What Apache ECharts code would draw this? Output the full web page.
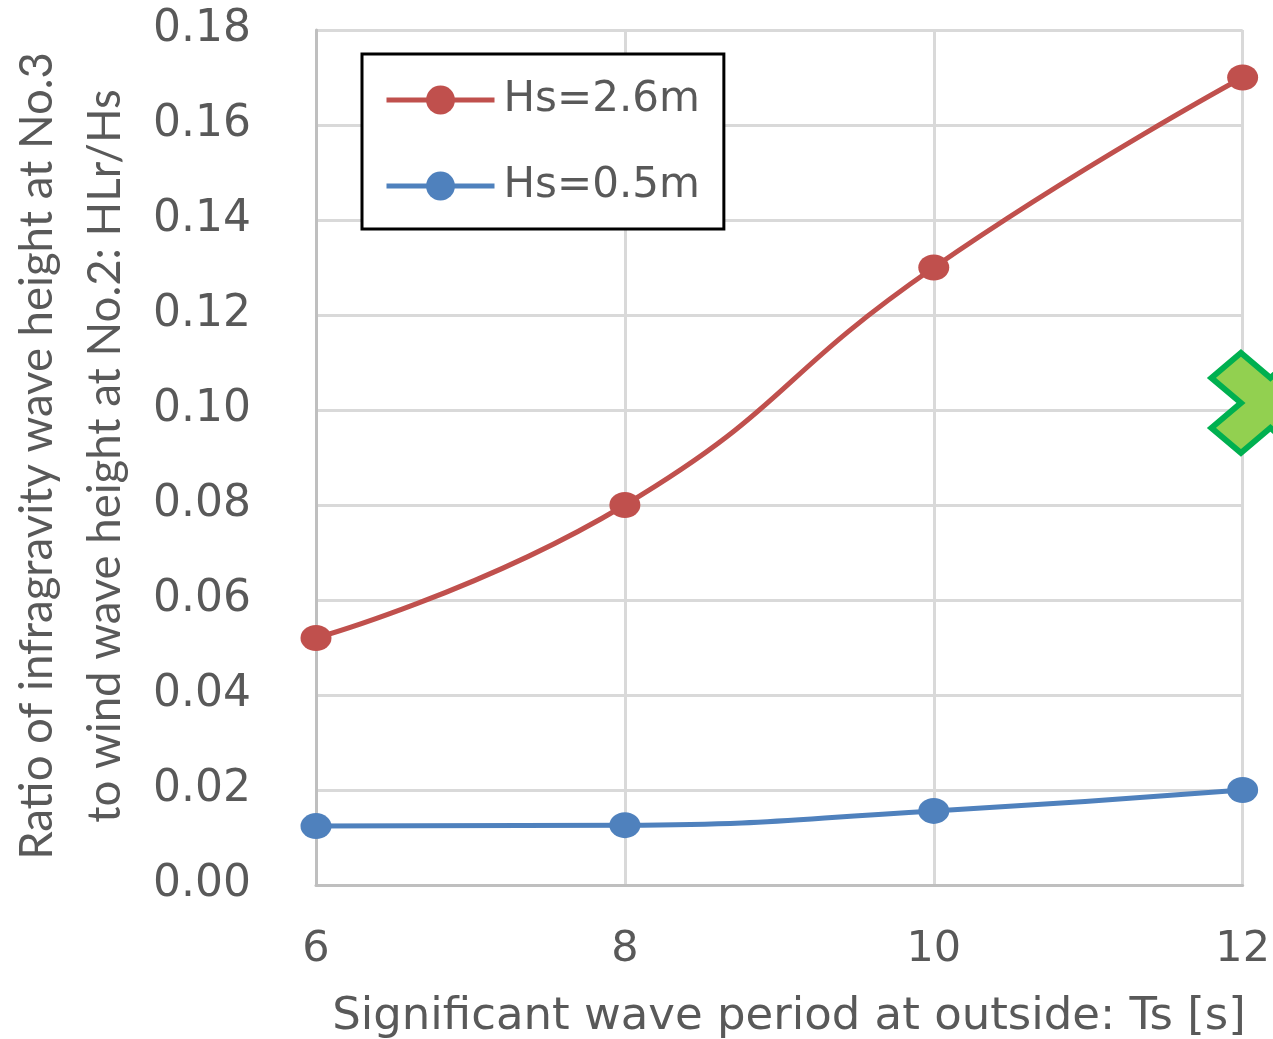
<!DOCTYPE html>
<html>
<head>
<meta charset="utf-8">
<script src="https://cdn.jsdelivr.net/npm/echarts@6/dist/echarts.min.js"></script>
<style>
html,body{margin:0;padding:0;background:#fff;}
#chart{width:1273px;height:1039px;}
</style>
</head>
<body>
<div id="chart"></div>
<script>
var periods = [6, 8, 10, 12];
var hs26 = [0.052, 0.080, 0.130, 0.170];
var hs05 = [0.0124, 0.0126, 0.0156, 0.0200];
var crossPoint = [12.18, 0.1015];
var seriesNames = ['Hs=2.6m', 'Hs=0.5m'];
var xTitle = 'Significant wave period at outside: Ts [s]';
var yTitle1 = 'Ratio of infragravity wave height at No.3';
var yTitle2 = 'to wind wave height at No.2: HLr/Hs';

var FONT = '"DejaVu Sans", sans-serif';
var FONT2 = 'Lato, "Open Sans", sans-serif';
var TXT = '#595959';

function pairs(xs, ys){ return xs.map(function(x,i){return [x, ys[i]];}); }

var chart = echarts.init(document.getElementById('chart'), null, {renderer:'canvas'});
chart.setOption({
  animation: false,
  backgroundColor: '#fff',
  grid: {left: 316, right: 30, top: 30, bottom: 154, containLabel: false},
  xAxis: {
    type: 'value', min: 6, max: 12, interval: 2,
    axisLine: {show: true, lineStyle: {color: '#BFBFBF', width: 3}},
    axisTick: {show: false},
    splitLine: {show: true, lineStyle: {color: '#D9D9D9', width: 3}},
    axisLabel: {color: TXT, fontSize: 43, fontFamily: FONT, margin: 43}
  },
  yAxis: {
    type: 'value', min: 0, max: 0.18, interval: 0.02,
    axisLine: {show: true, lineStyle: {color: '#BFBFBF', width: 3}},
    axisTick: {show: false},
    splitLine: {show: true, lineStyle: {color: '#D9D9D9', width: 3}},
    axisLabel: {color: TXT, fontSize: 44, fontFamily: FONT, margin: 65,
      formatter: function(v){ return v.toFixed(2); }}
  },
  legend: {
    left: 362, top: 54, orient: 'vertical',
    data: seriesNames,
    backgroundColor: '#fff',
    borderColor: '#000', borderWidth: 3, borderRadius: 0,
    padding: [25, 24, 22, 22],
    itemWidth: 108, itemHeight: 36, itemGap: 44,
    lineStyle: {width: 5},
    textStyle: {color: TXT, fontSize: 42, fontFamily: FONT, padding: [0, 0, 0, 4]}
  },
  graphic: [{
    type: 'text', x: 71, y: 456, rotation: Math.PI/2,
    style: {text: yTitle1 + '\n' + yTitle2, fill: TXT, font: '45.5px ' + FONT2,
      align: 'center', verticalAlign: 'middle', lineHeight: 68}
  }, {
    type: 'text', x: 789, y: 1017,
    style: {text: xTitle, fill: TXT, font: '45px ' + FONT,
      align: 'center', verticalAlign: 'middle'}
  }],
  series: [
    {name: seriesNames[0], type: 'line', data: pairs(periods, hs26), smooth: 0.5,
      symbol: 'circle', symbolSize: [31, 26],
      lineStyle: {color: '#C0504D', width: 5}, itemStyle: {color: '#C0504D'}, z: 3},
    {name: seriesNames[1], type: 'line', data: pairs(periods, hs05), smooth: 0.5,
      symbol: 'circle', symbolSize: [31, 26],
      lineStyle: {color: '#4F81BD', width: 5}, itemStyle: {color: '#4F81BD'}, z: 3},
    {name: 'mark', type: 'scatter', data: [crossPoint], clip: false,
      symbol: 'path://M0,25 L25,0 L50,25 L75,0 L100,25 L75,50 L100,75 L75,100 L50,75 L25,100 L0,75 L25,50 Z',
      symbolSize: [118, 100],
      itemStyle: {color: '#92D050', borderColor: '#00B050', borderWidth: 6, opacity: 1}, z: 4}
  ]
});
</script>
</body>
</html>
